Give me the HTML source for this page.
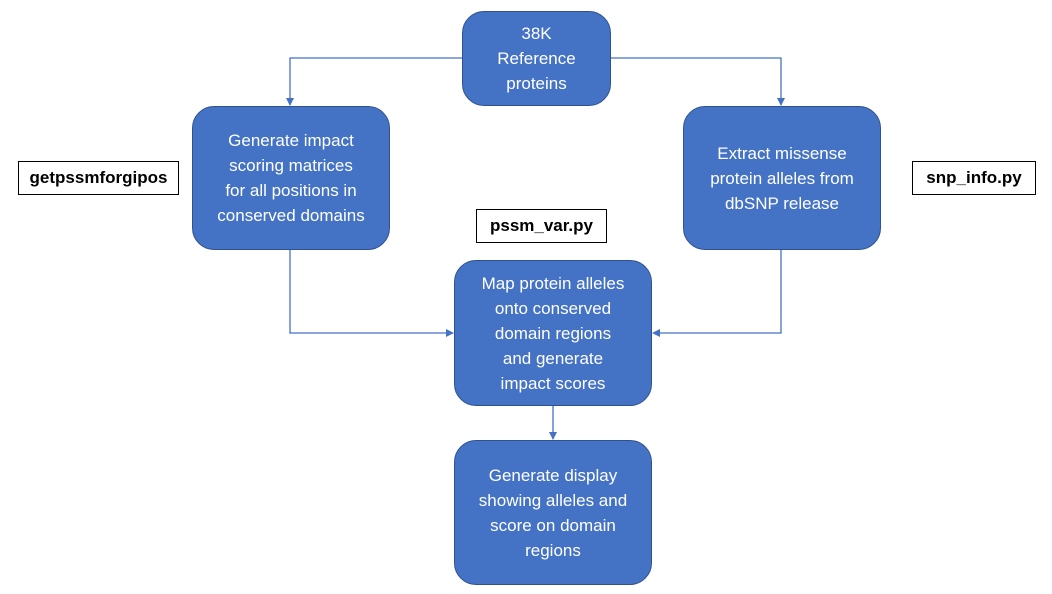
<!DOCTYPE html>
<html><head><meta charset="utf-8"><style>
body{margin:0;width:1052px;height:594px;background:#fff;position:relative;overflow:hidden;font-family:"Liberation Sans",sans-serif}
.b{position:absolute;background:#4472C4;border:1.5px solid #2F528F;border-radius:22px;box-sizing:border-box;color:#fff;font-size:17px;line-height:25px;text-align:center;display:flex;align-items:center;justify-content:center;padding:0 2px;white-space:nowrap}
.l{position:absolute;border:1.5px solid #000;box-sizing:border-box;background:#fff;font-weight:bold;font-size:17px;display:flex;align-items:center;justify-content:center}
svg{position:absolute;left:0;top:0}
</style></head><body>
<svg width="1052" height="594">
<defs><marker id="a" markerWidth="8" markerHeight="8" refX="7" refY="4" orient="auto" markerUnits="userSpaceOnUse"><path d="M0,0 L8,4 L0,8z" fill="#4472C4"/></marker></defs>
<g stroke="#4472C4" stroke-width="1.3" fill="none">
<path d="M462,58 H290 V105" marker-end="url(#a)"/>
<path d="M610,58 H781 V105" marker-end="url(#a)"/>
<path d="M290,250 V333 H453" marker-end="url(#a)"/>
<path d="M781,250 V333 H653" marker-end="url(#a)"/>
<path d="M553,406 V439" marker-end="url(#a)"/>
</g></svg>
<div class="b" style="left:462px;top:11px;width:149px;height:95px">38K<br>Reference<br>proteins</div>
<div class="b" style="left:192px;top:106px;width:198px;height:144px">Generate impact<br>scoring matrices<br>for all positions in<br>conserved domains</div>
<div class="b" style="left:683px;top:106px;width:198px;height:144px">Extract missense<br>protein alleles from<br>dbSNP release</div>
<div class="b" style="left:454px;top:260px;width:198px;height:146px">Map protein alleles<br>onto conserved<br>domain regions<br>and generate<br>impact scores</div>
<div class="b" style="left:454px;top:440px;width:198px;height:145px">Generate display<br>showing alleles and<br>score on domain<br>regions</div>
<div class="l" style="left:18px;top:161px;width:161px;height:34px">getpssmforgipos</div>
<div class="l" style="left:476px;top:209px;width:131px;height:34px">pssm_var.py</div>
<div class="l" style="left:912px;top:161px;width:124px;height:34px">snp_info.py</div>
</body></html>
